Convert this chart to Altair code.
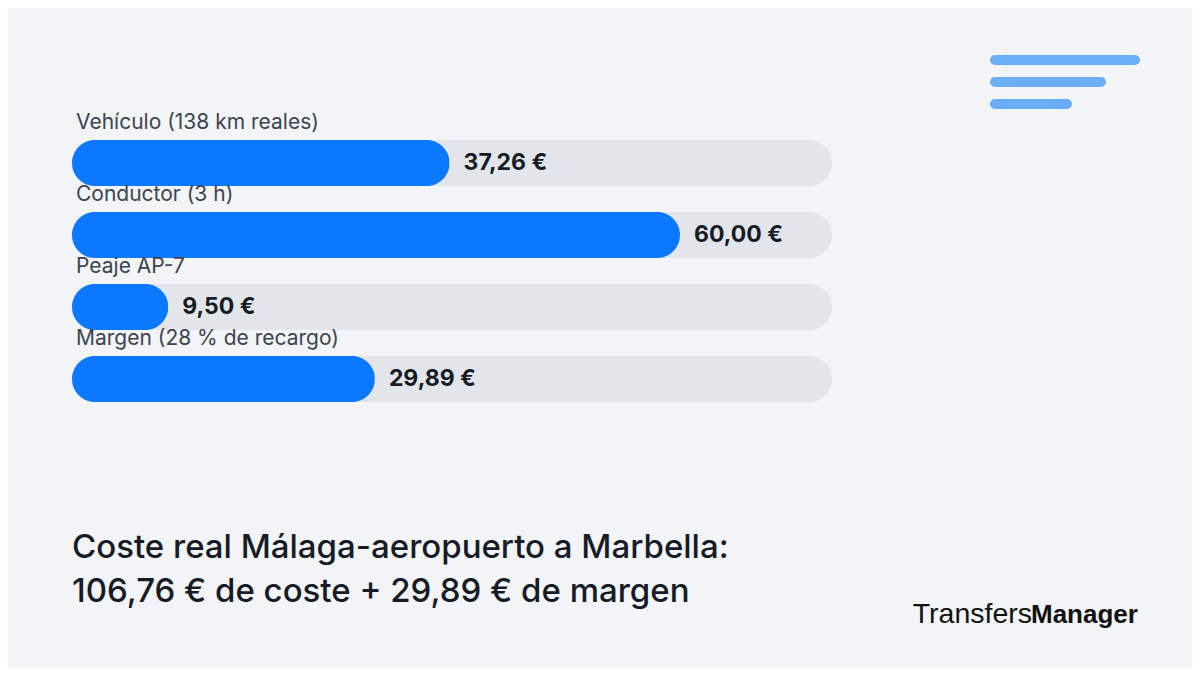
import altair as alt
import pandas as pd

categories = ["Vehículo (138 km reales)", "Conductor (3 h)", "Peaje AP-7", "Margen (28 % de recargo)"]
values = [37.26, 60.00, 9.50, 29.89]
track_max = 75
title_lines = ["Coste real Málaga-aeropuerto a Marbella:", "106,76 € de coste + 29,89 € de margen"]

BG = "#f2f4f7"
TRACK = "#e2e5e9"
BLUE = "#0a78ff"
DARK = "#161b26"
FONT = "Inter"

df = pd.DataFrame({
    "cat": categories,
    "idx": list(range(len(categories))),
    "value": values,
    "track": [track_max] * len(categories),
    "label": [f"{v:.2f}".replace(".", ",") + " €" for v in values],
})

xs = alt.Scale(domain=[0, track_max], range=[64, 824], padding=0, nice=False, zero=True)
ys = alt.Scale(domain=[0, 3], range=[155, 371], padding=0, nice=False)

base = alt.Chart(df)

track = base.mark_bar(orient="horizontal", size=46, cornerRadius=23, color=TRACK).encode(
    x=alt.X("track:Q", scale=xs, axis=None),
    y=alt.Y("idx:Q", scale=ys, axis=None),
)
bars = base.mark_bar(orient="horizontal", size=46, cornerRadius=23, color=BLUE).encode(
    x=alt.X("value:Q", scale=xs, axis=None),
    y=alt.Y("idx:Q", scale=ys, axis=None),
)
cat_text = base.mark_text(align="left", baseline="middle", dy=-40, fontSize=21, font=FONT,
                          color="#3e4350").encode(
    x=alt.value(68),
    y=alt.Y("idx:Q", scale=ys, axis=None),
    text="cat:N",
)
val_text = base.mark_text(align="left", baseline="middle", dx=14, fontSize=23, fontWeight="bold",
                          font=FONT, color=DARK).encode(
    x=alt.X("value:Q", scale=xs, axis=None),
    y=alt.Y("idx:Q", scale=ys, axis=None),
    text="label:N",
)

tdf = pd.DataFrame({"t": title_lines, "ypos": [540, 584]})
title = alt.Chart(tdf).mark_text(align="left", baseline="middle", fontSize=33, font=FONT,
                                 fontWeight=500, color=DARK).encode(
    x=alt.value(64),
    y=alt.Y("ypos:Q", scale=None),
    text="t:N",
)

logo_df = pd.DataFrame({"a": [1]})
logo1 = alt.Chart(logo_df).mark_text(align="right", baseline="middle", fontSize=28.5, font="Liberation Sans",
                                     color="#111111", text="Transfers").encode(
    x=alt.value(1024), y=alt.value(606))
logo2 = alt.Chart(logo_df).mark_text(align="left", baseline="middle", fontSize=26, font="Liberation Sans",
                                     fontWeight="bold", color="#111111", text="Manager").encode(
    x=alt.value(1023), y=alt.value(607))

icon_col = "#6aaff5"
icon1 = alt.Chart(logo_df).mark_rule(strokeWidth=10, strokeCap="round", color=icon_col).encode(
    x=alt.value(987), x2=alt.value(1127), y=alt.value(52))
icon2 = alt.Chart(logo_df).mark_rule(strokeWidth=10, strokeCap="round", color=icon_col).encode(
    x=alt.value(987), x2=alt.value(1093), y=alt.value(74))
icon3 = alt.Chart(logo_df).mark_rule(strokeWidth=10, strokeCap="round", color=icon_col).encode(
    x=alt.value(987), x2=alt.value(1059), y=alt.value(96))

chart = alt.layer(track, bars, cat_text, val_text, title, logo1, logo2, icon1, icon2, icon3).properties(
    width=1184, height=659,
    autosize=alt.AutoSizeParams(type="none"),
    padding=0,
    background=BG,
).configure_view(stroke=None)

chart.save("out.html", embed_options={"renderer": "svg", "actions": False})
